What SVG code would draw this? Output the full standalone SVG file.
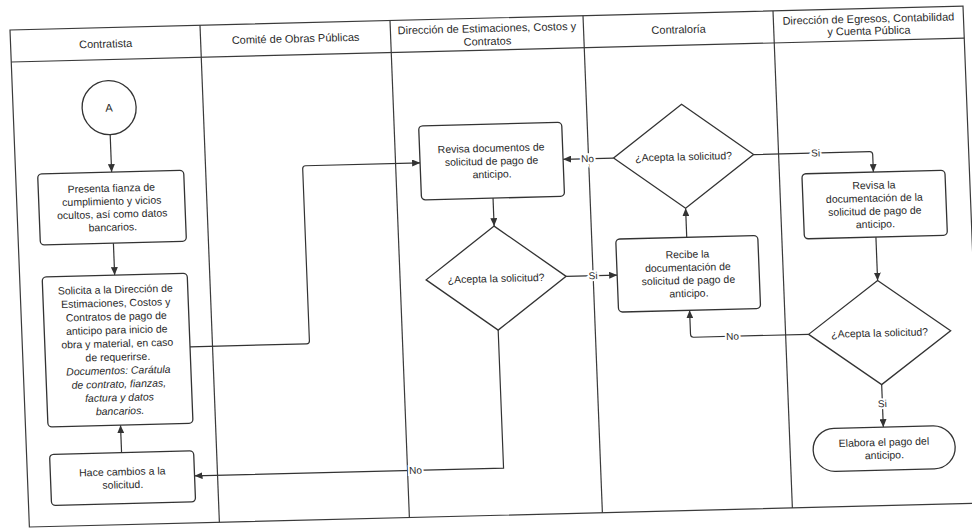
<svg xmlns="http://www.w3.org/2000/svg" width="972" height="531" viewBox="0 0 972 531">
<defs>
<marker id="ah" markerWidth="8" markerHeight="7" refX="8" refY="3.5" orient="auto" markerUnits="userSpaceOnUse">
<path d="M0,0 L8,3.5 L0,7 z" fill="#333"/>
</marker>
<style>
.lane{fill:none;stroke:#3a3a3a;stroke-width:1.2}
.node{fill:#fff;stroke:#333;stroke-width:1.3}
.conn{fill:none;stroke:#333;stroke-width:1.2;marker-end:url(#ah)}
.line{fill:none;stroke:#333;stroke-width:1.2}
text{font-family:"Liberation Sans",Arial,sans-serif;fill:#2a2a2a;text-anchor:middle}
.h{font-size:11px}
.t{font-size:10.5px}
.i{font-style:italic}
.lbl{font-size:10px;stroke:#fff;stroke-width:4;paint-order:stroke}
</style>
</defs>
<rect width="972" height="531" fill="#fff"/>
<g transform="matrix(1 -0.025 0.039 1 -1.17 0.25)">
<g id="lanes">
<rect class="lane" x="10" y="30" width="953" height="497"/>
<line class="lane" x1="10" y1="62" x2="963" y2="62"/>
<line class="lane" x1="200" y1="30" x2="200" y2="527"/>
<line class="lane" x1="390" y1="30" x2="390" y2="527"/>
<line class="lane" x1="583" y1="30" x2="583" y2="527"/>
<line class="lane" x1="773" y1="30" x2="773" y2="527"/>
<text class="h" x="105" y="50">Contratista</text>
<text class="h" x="295" y="49.5">Comité de Obras Públicas</text>
<text class="h" x="486.5" y="44">Dirección de Estimaciones, Costos y</text>
<text class="h" x="486.5" y="57">Contratos</text>
<text class="h" x="678" y="50">Contraloría</text>
<text class="h" x="868" y="44">Dirección de Egresos, Contabilidad</text>
<text class="h" x="868" y="56">y Cuenta Pública</text>
</g>
<g id="connectors">
<path class="conn" d="M106 137 V174.5"/>
<path class="conn" d="M105 245.5 V277.5"/>
<path class="conn" d="M105 455 V427.5"/>
<path class="conn" d="M177.5 351 H294 Q297 351 297 348 V176 Q297 173 300 173 H414.5"/>
<path class="conn" d="M486 210 V238"/>
<path class="conn" d="M556 290 H607"/>
<path class="conn" d="M486 342 V480 H177"/>
<path class="conn" d="M608 173 H557.5"/>
<path class="conn" d="M678 254 V225"/>
<path class="conn" d="M748 173 H864 Q867 173 867 176 V193.5"/>
<path class="conn" d="M867 258.5 V302"/>
<path class="conn" d="M796 354 H681 Q678 354 678 351 V327"/>
<path class="conn" d="M867 406 V448.5"/>
<text class="lbl" x="583" y="293.5">Si</text>
<text class="lbl" x="398" y="483.5">No</text>
<text class="lbl" x="582" y="176.5">No</text>
<text class="lbl" x="810" y="176.5">Si</text>
<text class="lbl" x="720" y="357.5">No</text>
<text class="lbl" x="867" y="428.5">Si</text>
</g>
<g id="nA">
<circle class="node" cx="106" cy="110" r="27"/>
<text class="h" x="106" y="114">A</text>
</g>
<g id="n1">
<rect class="node" x="32" y="174.5" width="146" height="71" rx="4"/>
<text class="t" x="105" y="194.2">Presenta fianza de</text>
<text class="t" x="105" y="207.2">cumplimiento y vicios</text>
<text class="t" x="105" y="220.2">ocultos, así como datos</text>
<text class="t" x="105" y="233.2">bancarios.</text>
</g>
<g id="n2">
<rect class="node" x="32.5" y="277.5" width="145" height="150" rx="4"/>
<text class="t" x="105" y="295.5">Solicita a la Dirección de</text>
<text class="t" x="105" y="309">Estimaciones, Costos y</text>
<text class="t" x="105" y="322.5">Contratos de pago de</text>
<text class="t" x="105" y="336">anticipo para inicio de</text>
<text class="t" x="105" y="349.5">obra y material, en caso</text>
<text class="t" x="105" y="363">de requerirse.</text>
<text class="t i" x="105" y="376.5">Documentos: Carátula</text>
<text class="t i" x="105" y="390">de contrato, fianzas,</text>
<text class="t i" x="105" y="403.5">factura y datos</text>
<text class="t i" x="105" y="417">bancarios.</text>
</g>
<g id="n3">
<rect class="node" x="33" y="455" width="144" height="51" rx="4"/>
<text class="t" x="105" y="477.7">Hace cambios a la</text>
<text class="t" x="105" y="490.7">solicitud.</text>
</g>
<g id="n4">
<rect class="node" x="414.5" y="136" width="143" height="74" rx="4"/>
<text class="t" x="486" y="163.7">Revisa documentos de</text>
<text class="t" x="486" y="176.7">solicitud de pago de</text>
<text class="t" x="486" y="189.7">anticipo.</text>
</g>
<g id="d1">
<polygon class="node" points="486,238 556,290 486,342 416,290"/>
<text class="t" x="486" y="294">¿Acepta la solicitud?</text>
</g>
<g id="d2">
<polygon class="node" points="678,121 748,173 678,225 608,173"/>
<text class="t" x="678" y="177">¿Acepta la solicitud?</text>
</g>
<g id="n5">
<rect class="node" x="607" y="254" width="142" height="73" rx="4"/>
<text class="t" x="678" y="274.7">Recibe la</text>
<text class="t" x="678" y="287.7">documentación de</text>
<text class="t" x="678" y="300.7">solicitud de pago de</text>
<text class="t" x="678" y="313.7">anticipo.</text>
</g>
<g id="n6">
<rect class="node" x="795.5" y="193.5" width="143" height="65" rx="4"/>
<text class="t" x="867" y="210.2">Revisa la</text>
<text class="t" x="867" y="223.2">documentación de la</text>
<text class="t" x="867" y="236.2">solicitud de pago de</text>
<text class="t" x="867" y="249.2">anticipo.</text>
</g>
<g id="d3">
<polygon class="node" points="867,302 938,354 867,406 796,354"/>
<text class="t" x="867" y="358">¿Acepta la solicitud?</text>
</g>
<g id="n7">
<rect class="node" x="796" y="448.5" width="142" height="43" rx="21.5"/>
<text class="t" x="867" y="467.2">Elabora el pago del</text>
<text class="t" x="867" y="480.2">anticipo.</text>
</g>
</g>
</svg>
